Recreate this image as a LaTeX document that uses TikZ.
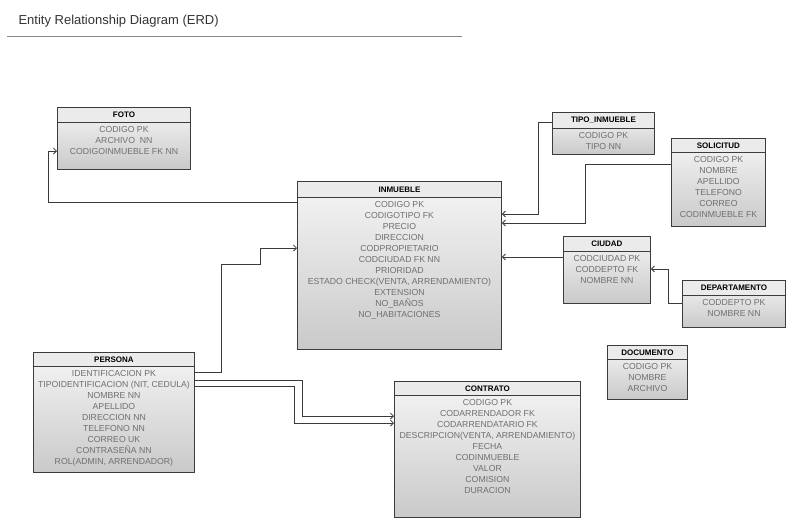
\documentclass[tikz,border=0pt]{standalone}
\usepackage{fontspec}
\setmainfont{Liberation Sans}
\usetikzlibrary{arrows.meta}

\definecolor{boxline}{HTML}{3C3C3C}
\definecolor{headfill}{HTML}{EBEBEB}
\definecolor{rowtext}{HTML}{707070}
\definecolor{linegray}{HTML}{3A3A3A}
\definecolor{titletext}{HTML}{333333}
\definecolor{rulegray}{HTML}{888888}

\tikzset{
	entity/.style = {draw = boxline, line width = 0.9pt, top color = gray!8, bottom color = gray!42,
		inner sep = 0pt, anchor = north west},
	head/.style = {draw = boxline, line width = 0.9pt, fill = headfill, inner sep = 0pt,
		minimum height = 15pt, anchor = north, font = \fontsize{8}{9}\selectfont\bfseries},
	rows/.style = {anchor = north, align = center, inner sep = 0pt, text = rowtext,
		font = \fontsize{8.7}{11}\selectfont},
	fk/.style = {draw = linegray, line width = 0.8pt, -{Straight Barb[length = 3pt, width = 6pt]}}
}

\begin{document}
\begin{tikzpicture}[x = 1pt, y = -1pt]
		\useasboundingbox (0, 0) rectangle (800, 531) ;
		\node [anchor = west, font = \fontsize{13}{15}\selectfont, text = titletext] (title)
			at (15, 21) {Entity Relationship Diagram (ERD)} ;
		\draw [rulegray, line width = 1pt] (7, 36) -- (462, 36) ;

		% FOTO
		\node [entity, minimum width = 133pt, minimum height = 62pt] (foto) at (57, 107) {} ;
		\node [head, minimum width = 133pt] (foto-t) at (foto.north) {FOTO} ;
		\node [rows] (foto-r) at ([yshift = -3.5pt]foto-t.south)
			{CODIGO PK\\ARCHIVO~~NN\\CODIGOINMUEBLE FK NN} ;

		% INMUEBLE
		\node [entity, minimum width = 204pt, minimum height = 168pt] (inmueble) at (297, 181) {} ;
		\node [head, minimum width = 204pt, minimum height = 16pt] (inmueble-t) at (inmueble.north) {INMUEBLE} ;
		\node [rows] (inmueble-r) at ([yshift = -3.5pt]inmueble-t.south)
			{CODIGO PK\\CODIGOTIPO FK\\PRECIO\\DIRECCION\\CODPROPIETARIO\\CODCIUDAD FK NN\\PRIORIDAD\\
			ESTADO CHECK(VENTA, ARRENDAMIENTO)\\EXTENSION\\NO\_BAÑOS\\NO\_HABITACIONES} ;

		% TIPO_INMUEBLE
		\node [entity, minimum width = 102pt, minimum height = 42pt] (tipo) at (552, 112) {} ;
		\node [head, minimum width = 102pt, minimum height = 16pt] (tipo-t) at (tipo.north) {TIPO\_INMUEBLE} ;
		\node [rows] (tipo-r) at ([yshift = -3pt]tipo-t.south) {CODIGO PK\\TIPO NN} ;

		% SOLICITUD
		\node [entity, minimum width = 94pt, minimum height = 88pt] (solicitud) at (671, 138) {} ;
		\node [head, minimum width = 94pt, minimum height = 14pt] (solicitud-t) at (solicitud.north) {SOLICITUD} ;
		\node [rows] (solicitud-r) at ([yshift = -3.5pt]solicitud-t.south)
			{CODIGO PK\\NOMBRE\\APELLIDO\\TELEFONO\\CORREO\\CODINMUEBLE FK} ;

		% CIUDAD
		\node [entity, minimum width = 87pt, minimum height = 67pt] (ciudad) at (563, 236) {} ;
		\node [head, minimum width = 87pt] (ciudad-t) at (ciudad.north) {CIUDAD} ;
		\node [rows] (ciudad-r) at ([yshift = -3pt]ciudad-t.south) {CODCIUDAD PK\\CODDEPTO FK\\NOMBRE NN} ;

		% DEPARTAMENTO
		\node [entity, minimum width = 103pt, minimum height = 47pt] (depto) at (682, 280) {} ;
		\node [head, minimum width = 103pt] (depto-t) at (depto.north) {DEPARTAMENTO} ;
		\node [rows] (depto-r) at ([yshift = -3.5pt]depto-t.south) {CODDEPTO PK\\NOMBRE NN} ;

		% DOCUMENTO
		\node [entity, minimum width = 80pt, minimum height = 54pt] (documento) at (607, 345) {} ;
		\node [head, minimum width = 80pt, minimum height = 14pt] (documento-t) at (documento.north) {DOCUMENTO} ;
		\node [rows] (documento-r) at ([yshift = -3.5pt]documento-t.south) {CODIGO PK\\NOMBRE\\ARCHIVO} ;

		% PERSONA
		\node [entity, minimum width = 161pt, minimum height = 120pt] (persona) at (33, 352) {} ;
		\node [head, minimum width = 161pt, minimum height = 14pt] (persona-t) at (persona.north) {PERSONA} ;
		\node [rows] (persona-r) at ([yshift = -3pt]persona-t.south)
			{IDENTIFICACION PK\\TIPOIDENTIFICACION (NIT, CEDULA)\\NOMBRE NN\\APELLIDO\\DIRECCION NN\\
			TELEFONO NN\\CORREO UK\\CONTRASEÑA NN\\ROL(ADMIN, ARRENDADOR)} ;

		% CONTRATO
		\node [entity, minimum width = 186pt, minimum height = 136pt] (contrato) at (394, 381) {} ;
		\node [head, minimum width = 186pt, minimum height = 14pt] (contrato-t) at (contrato.north) {CONTRATO} ;
		\node [rows] (contrato-r) at ([yshift = -3pt]contrato-t.south)
			{CODIGO PK\\CODARRENDADOR FK\\CODARRENDATARIO FK\\DESCRIPCION(VENTA, ARRENDAMIENTO)\\
			FECHA\\CODINMUEBLE\\VALOR\\COMISION\\DURACION} ;

		% relaciones
		\draw [fk] ([yshift = -21pt]inmueble.north west)
			-| ([xshift = -9pt, yshift = -44pt]foto.north west) -- ([yshift = -44pt]foto.north west) ;
		\draw [fk] ([yshift = -10pt]tipo.north west)
			-| ([xshift = 36pt, yshift = -33pt]inmueble.north east) -- ([yshift = -33pt]inmueble.north east) ;
		\draw [fk] ([yshift = -26pt]solicitud.north west)
			-| ([xshift = 83pt, yshift = -42pt]inmueble.north east) -- ([yshift = -42pt]inmueble.north east) ;
		\draw [fk] ([yshift = -21pt]ciudad.north west) -- ([yshift = -76pt]inmueble.north east) ;
		\draw [fk] ([yshift = -23pt]depto.north west)
			-| ([xshift = 17pt, yshift = -33pt]ciudad.north east) -- ([yshift = -33pt]ciudad.north east) ;
		\draw [fk] ([yshift = -20pt]persona.north east) -- ++(26, 0) -- ++(0, -108) -- ++(39, 0)
			|- ([yshift = -67pt]inmueble.north west) ;
		\draw [fk] ([yshift = -28pt]persona.north east)
			-| ([xshift = -92pt, yshift = -35pt]contrato.north west) -- ([yshift = -35pt]contrato.north west) ;
		\draw [fk] ([yshift = -34pt]persona.north east)
			-| ([xshift = -100pt, yshift = -42pt]contrato.north west) -- ([yshift = -42pt]contrato.north west) ;
	\end{tikzpicture}
\end{document}
